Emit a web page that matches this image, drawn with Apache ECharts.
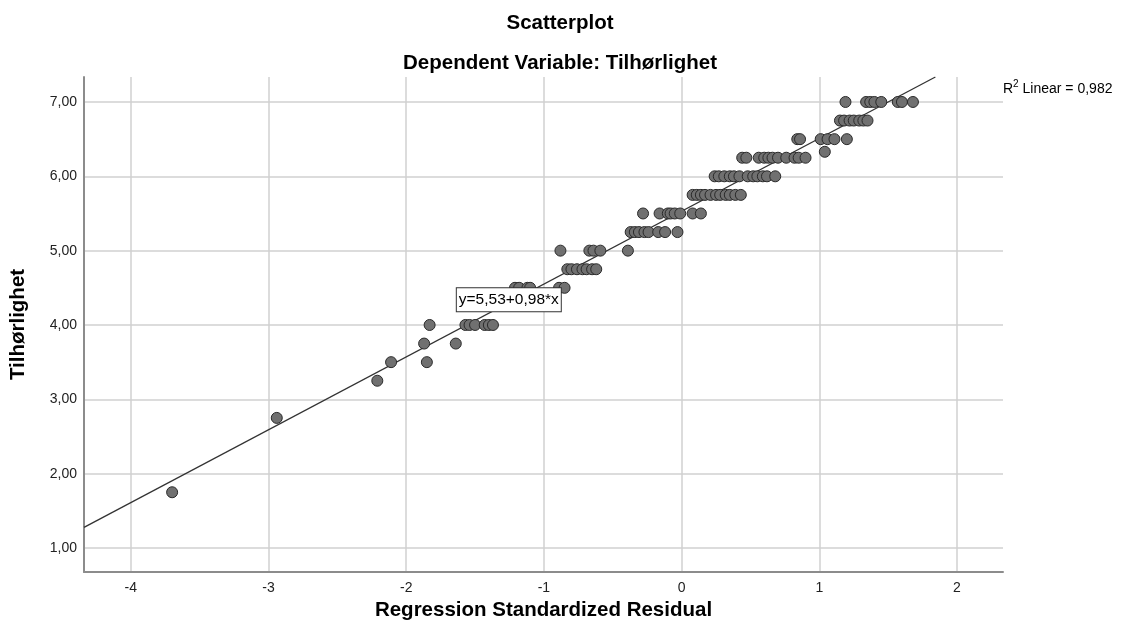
<!DOCTYPE html>
<html>
<head>
<meta charset="utf-8">
<script src="https://cdn.jsdelivr.net/npm/echarts@6/dist/echarts.min.js"></script>
<style>
  html, body { margin: 0; padding: 0; background: #fff; }
  #chart { width: 1133px; height: 644px; }
</style>
</head>
<body>
<div id="chart"></div>
<script>
// Observed values of the dependent variable (one per row of points)
const levels = [7.00, 6.75, 6.50, 6.33, 6.25, 6.00, 5.75, 5.50, 5.25, 5.00, 4.75, 4.50, 4.00, 3.75, 3.50, 3.25, 2.75, 1.75];

// Standardized residuals of the cases at each level
const residualsByLevel = [
  [1.19, 1.34, 1.37, 1.40, 1.45, 1.57, 1.60, 1.68],
  [1.15, 1.18, 1.22, 1.25, 1.29, 1.32, 1.35],
  [0.84, 0.86, 1.01, 1.06, 1.11, 1.20],
  [1.04],
  [0.44, 0.47, 0.56, 0.60, 0.63, 0.66, 0.70, 0.76, 0.82, 0.85, 0.90],
  [0.24, 0.27, 0.31, 0.35, 0.38, 0.42, 0.48, 0.52, 0.55, 0.59, 0.62, 0.68],
  [0.08, 0.11, 0.14, 0.17, 0.21, 0.25, 0.28, 0.32, 0.35, 0.39, 0.43],
  [-0.28, -0.16, -0.10, -0.08, -0.05, -0.01, 0.08, 0.14],
  [-0.37, -0.34, -0.31, -0.27, -0.24, -0.17, -0.12, -0.03],
  [-0.88, -0.67, -0.64, -0.59, -0.39],
  [-0.83, -0.80, -0.76, -0.72, -0.69, -0.65, -0.62],
  [-1.21, -1.18, -1.12, -1.10, -0.89, -0.85],
  [-1.83, -1.57, -1.54, -1.50, -1.43, -1.40, -1.37],
  [-1.87, -1.64],
  [-2.11, -1.85],
  [-2.21],
  [-2.94],
  [-3.70]
];

// Axis ticks
const xTicks = [-4, -3, -2, -1, 0, 1, 2];
const yTicks = [1, 2, 3, 4, 5, 6, 7];

// Linear fit: y = 5,53 + 0,98*x, R² = 0,982
const intercept = 5.53;
const slope = 0.98;
const rSquared = 0.982;

const xMin = -4.34, xMax = 2.334;
const yMin = 0.677, yMax = 7.336;

const fmt = (v, d) => v.toFixed(d).replace('.', ',');

const points = [];
levels.forEach((lv, i) => residualsByLevel[i].forEach(r => points.push([r, lv])));

// Fit line clipped to the plotting region
const xEnd = Math.min(xMax, (yMax - intercept) / slope);
const xStart = Math.max(xMin, (yMin - intercept) / slope);
const fitLine = [[xStart, intercept + slope * xStart], [xEnd, intercept + slope * xEnd]];

const FONT = "'Liberation Sans', Arial, sans-serif";

const chart = echarts.init(document.getElementById('chart'), null, { renderer: 'canvas' });
chart.setOption({
  animation: false,
  backgroundColor: '#ffffff',
  title: [
    { text: 'Scatterplot', left: 555, top: 8, textAlign: 'center',
      textStyle: { fontFamily: FONT, fontSize: 20.5, fontWeight: 'bold', color: '#000' } },
    { text: 'Dependent Variable: Tilhørlighet', left: 555, top: 48, textAlign: 'center',
      textStyle: { fontFamily: FONT, fontSize: 20.5, fontWeight: 'bold', color: '#000' } }
  ],
  grid: { left: 83, right: 130, top: 77, bottom: 72, containLabel: false },
  xAxis: {
    type: 'value', min: xMin, max: xMax,
    name: 'Regression Standardized Residual', nameLocation: 'middle', nameGap: 21,
    nameTextStyle: { fontFamily: FONT, fontSize: 20.5, fontWeight: 'bold', color: '#000', verticalAlign: 'top' },
    axisLine: { show: true, onZero: false, lineStyle: { color: '#8c8c8c', width: 2 } },
    axisTick: { show: false, customValues: xTicks },
    axisLabel: { customValues: xTicks, margin: 9, fontFamily: FONT, fontSize: 14, color: '#222',
      formatter: v => String(v) },
    splitLine: { show: true, lineStyle: { color: '#d0d0d0', width: 1.5 } }
  },
  yAxis: {
    type: 'value', min: yMin, max: yMax,
    name: 'Tilhørlighet', nameLocation: 'middle', nameGap: 55, nameRotate: 90,
    nameTextStyle: { fontFamily: FONT, fontSize: 20.5, fontWeight: 'bold', color: '#000' },
    axisLine: { show: true, onZero: false, lineStyle: { color: '#8c8c8c', width: 2 } },
    axisTick: { show: false, customValues: yTicks },
    axisLabel: { customValues: yTicks, margin: 7, fontFamily: FONT, fontSize: 14, color: '#222',
      formatter: v => fmt(v, 2) },
    splitLine: { show: true, lineStyle: { color: '#d0d0d0', width: 1.5 } }
  },
  series: [
    {
      type: 'line', data: fitLine, showSymbol: false, silent: true, z: 3,
      lineStyle: { color: '#333', width: 1.3 },
      markPoint: {
        symbol: 'rect', symbolSize: 0,
        data: [{ coord: [-1.255, 4.34] }],
        label: {
          show: true, position: 'inside',
          formatter: 'y=' + fmt(intercept, 2) + '+' + fmt(slope, 2) + '*x',
          fontFamily: FONT, fontSize: 15.5, color: '#000',
          backgroundColor: '#fff', borderColor: '#333', borderWidth: 1, padding: [4, 2, 3, 2]
        }
      }
    },
    {
      type: 'scatter', data: points, symbol: 'circle', symbolSize: 11, z: 4,
      itemStyle: { color: '#707070', borderColor: '#2a2a2a', borderWidth: 1, opacity: 1 }
    }
  ],
  graphic: [
    {
      type: 'text', left: 1003, top: 79,
      style: {
        text: '{t|R}{s|2}{t| Linear = ' + fmt(rSquared, 3) + '}',
        rich: {
          t: { fontFamily: FONT, fontSize: 14, fill: '#000', verticalAlign: 'bottom' },
          s: { fontFamily: FONT, fontSize: 10, fill: '#000', verticalAlign: 'top', padding: [0, 0, 7, 0] }
        }
      }
    }
  ]
});
</script>
</body>
</html>
